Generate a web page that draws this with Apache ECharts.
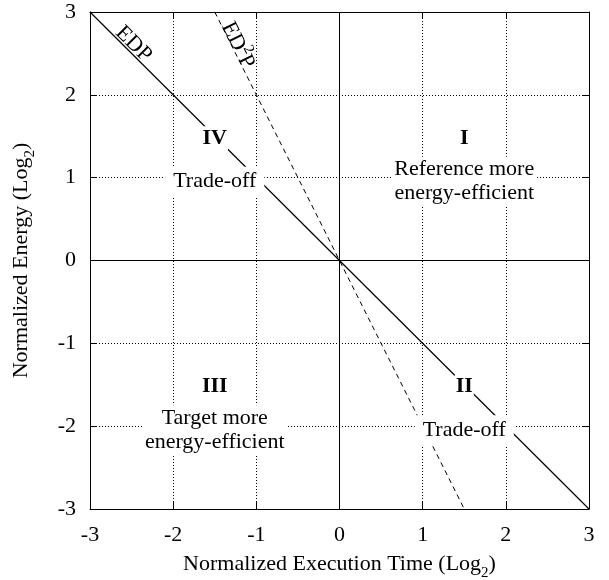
<!DOCTYPE html>
<html>
<head>
<meta charset="utf-8">
<script src="https://cdn.jsdelivr.net/npm/echarts@6/dist/echarts.min.js"></script>
<style>
  html, body { margin: 0; padding: 0; background: #fff; }
  #chart { width: 609px; height: 580px; }
</style>
</head>
<body>
<div id="chart"></div>
<script>
// Axis ticks (log2 scale, both axes)
const ticks = [-3, -2, -1, 0, 1, 2, 3];

// Iso-EDP line: E * T = const  ->  log E = -log T
const edpX = [-3, 3];
const edpY = [3, -3];

// Iso-ED^2P line: E * T^2 = const  ->  log E = -2 log T
const ed2pX = [-1.5, 1.5];
const ed2pY = [3, -3];

// Quadrant numerals
const quadNames = ['I', 'II', 'III', 'IV'];
const quadX = [1.5, 1.5, -1.5, -1.5];
const quadY = [1.5, -1.5, -1.5, 1.5];

// Quadrant descriptions
const regionText = ['Reference more\nenergy-efficient', 'Trade-off', 'Target more\nenergy-efficient', 'Trade-off'];
const regionX = [1.5, 1.5, -1.5, -1.5];
const regionY = [1, -2, -2, 1];

// Line captions
const captionText = ['{m|EDP}', '{m|ED}{sup|2}{m|P}'];
const captionX = [-2.46, -1.2];
const captionY = [2.63, 2.61];
const captionAngle = [-45, -63.3];

const FONT = 'Liberation Serif';
const FS = 22;
const BLACK = '#000';

const chart = echarts.init(document.getElementById('chart'), null, { renderer: 'canvas' });

const baseAxis = {
  type: 'value',
  min: ticks[0],
  max: ticks[ticks.length - 1],
  interval: 1,
  axisLine: { show: true, onZero: false, lineStyle: { color: BLACK, width: 1 } },
  axisTick: { show: true, inside: true, length: 7, lineStyle: { color: BLACK, width: 1 } },
  splitLine: { show: false },
  axisLabel: { show: false }
};

const subRich = {
  main: { fontFamily: FONT, fontSize: FS, color: BLACK, verticalAlign: 'top', lineHeight: 24 },
  sub: { fontFamily: FONT, fontSize: 15, color: BLACK, verticalAlign: 'bottom', lineHeight: 28 }
};

const plainLabel = {
  show: true, position: 'inside', formatter: p => p.name,
  fontFamily: FONT, fontSize: FS, color: BLACK,
  textBorderWidth: 0, opacity: 1
};

chart.setOption({
  animation: false,
  backgroundColor: '#fff',
  grid: { left: 90, top: 12, right: 20, bottom: 71, containLabel: false, outerBoundsMode: 'none' },
  xAxis: [
    Object.assign({}, baseAxis, {
      position: 'bottom',
      splitLine: { show: true, lineStyle: { color: BLACK, width: 1, type: [1, 2] } },
      axisLabel: { show: true, fontFamily: FONT, fontSize: FS, color: BLACK, margin: 15,
        formatter: v => String(v) },
      name: '{main|Normalized Execution Time (Log}{sub|2}{main|)}',
      nameLocation: 'middle',
      nameGap: 44,
      nameTextStyle: { rich: subRich }
    }),
    Object.assign({}, baseAxis, { position: 'top' })
  ],
  yAxis: [
    Object.assign({}, baseAxis, {
      position: 'left',
      splitLine: { show: true, lineStyle: { color: BLACK, width: 1, type: [1, 2] } },
      axisLabel: { show: true, fontFamily: FONT, fontSize: FS, color: BLACK, margin: 14,
        formatter: v => String(v) },
      name: '{main|Normalized Energy (Log}{sub|2}{main|)}',
      nameLocation: 'middle',
      nameGap: 52,
      nameTextStyle: { rich: subRich }
    }),
    Object.assign({}, baseAxis, { position: 'right' })
  ],
  series: [
    {
      name: 'EDP',
      type: 'line',
      data: edpX.map((x, i) => [x, edpY[i]]),
      symbol: 'none',
      lineStyle: { color: BLACK, width: 1.2 },
      z: 3,
      // Solid axes through the origin
      markLine: {
        silent: true,
        symbol: 'none',
        label: { show: false },
        lineStyle: { color: BLACK, width: 1, type: 'solid' },
        data: [{ xAxis: 0 }, { yAxis: 0 }]
      }
    },
    {
      name: 'ED2P',
      type: 'line',
      data: ed2pX.map((x, i) => [x, ed2pY[i]]),
      symbol: 'none',
      lineStyle: { color: BLACK, width: 1, type: [5, 4] },
      z: 3
    },
    {
      name: 'quadrants',
      type: 'scatter',
      symbolSize: 0,
      z: 10,
      itemStyle: { opacity: 1 },
      data: quadNames.map((n, i) => ({ value: [quadX[i], quadY[i]], name: n })),
      label: Object.assign({}, plainLabel, {
        fontWeight: 'bold', backgroundColor: '#fff', padding: [1, 1], lineHeight: 22,
        offset: [0, 2]
      })
    },
    {
      name: 'regions',
      type: 'scatter',
      symbolSize: 0,
      z: 10,
      itemStyle: { opacity: 1 },
      data: regionText.map((t, i) => ({
        value: [regionX[i], regionY[i]], name: t,
        label: { padding: t.indexOf('\n') >= 0 ? [1, 3] : [3, 8] }
      })),
      label: Object.assign({}, plainLabel, {
        lineHeight: 24, backgroundColor: '#fff', offset: [0, 4]
      })
    },
    {
      name: 'captions',
      type: 'scatter',
      symbolSize: 0,
      z: 10,
      itemStyle: { opacity: 1 },
      data: captionText.map((t, i) => ({
        value: [captionX[i], captionY[i]], name: t,
        label: { rotate: captionAngle[i] }
      })),
      label: Object.assign({}, plainLabel, {
        rich: {
          m: { fontFamily: FONT, fontSize: FS, color: BLACK, verticalAlign: 'bottom', lineHeight: 26 },
          sup: { fontFamily: FONT, fontSize: 15, color: BLACK, verticalAlign: 'top', lineHeight: 26 }
        }
      })
    }
  ]
});
</script>
</body>
</html>
